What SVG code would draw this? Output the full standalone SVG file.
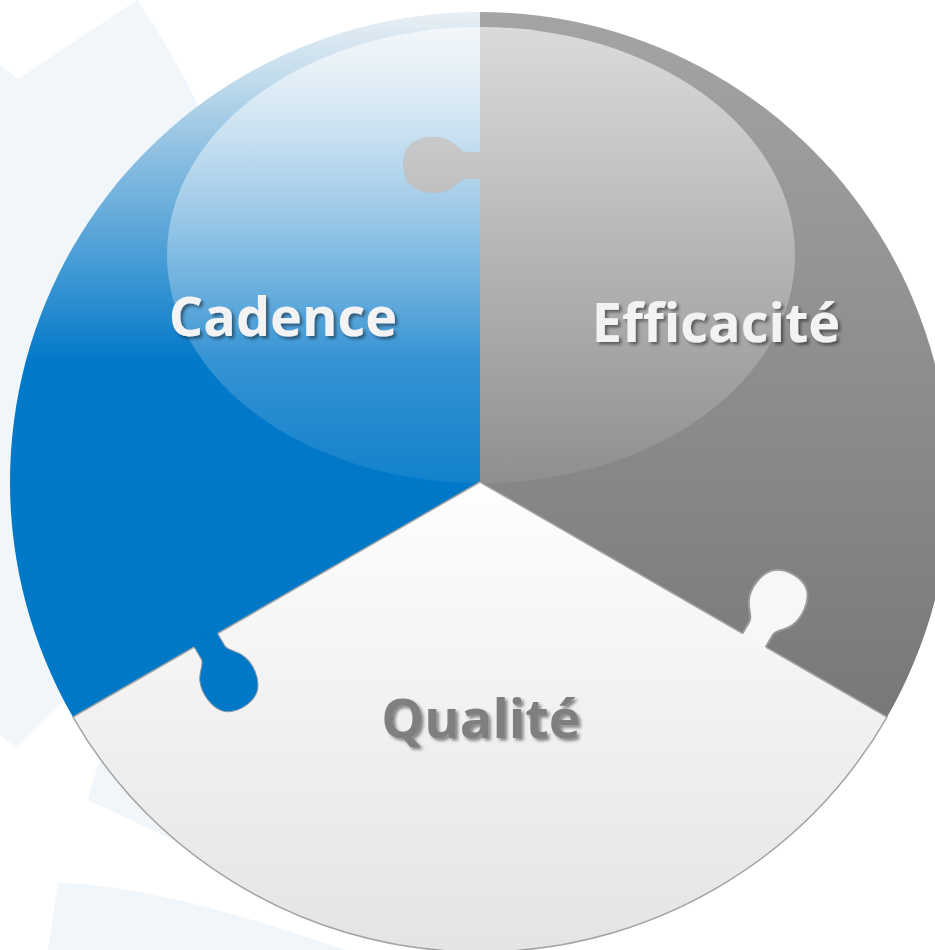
<svg xmlns="http://www.w3.org/2000/svg" xmlns:xlink="http://www.w3.org/1999/xlink" width="935" height="950" viewBox="0 0 935 950">
<style>
  .bg { fill: #f1f6fb; }
  .label { font-family: "Open Sans", "Liberation Sans", sans-serif; font-weight: bold; font-size: 54px; text-anchor: middle; filter: url(#shadow); }
  .light { fill: #f3f3f3; }
  .dark { fill: #7f7f7f; }
  .gloss { fill: url(#gGloss); }
</style>
<defs>
  <linearGradient id="gBlue" gradientUnits="userSpaceOnUse" x1="0" y1="12" x2="0" y2="482">
    <stop offset="0" stop-color="#e9eff4"/>
    <stop offset="0.145" stop-color="#c0dbec"/>
    <stop offset="0.295" stop-color="#8fc0e2"/>
    <stop offset="0.52" stop-color="#4a9ed6"/>
    <stop offset="0.74" stop-color="#0479c9"/>
    <stop offset="1" stop-color="#0078c8"/>
  </linearGradient>
  <linearGradient id="gGray" gradientUnits="userSpaceOnUse" x1="0" y1="12" x2="0" y2="717">
    <stop offset="0" stop-color="#a3a4a6"/>
    <stop offset="1" stop-color="#787878"/>
  </linearGradient>
  <linearGradient id="gWhite" gradientUnits="userSpaceOnUse" x1="0" y1="482" x2="0" y2="952">
    <stop offset="0" stop-color="#fefefe"/>
    <stop offset="1" stop-color="#e4e4e4"/>
  </linearGradient>
  <linearGradient id="gGloss" gradientUnits="userSpaceOnUse" x1="0" y1="27" x2="0" y2="483">
    <stop offset="0" stop-color="#ffffff" stop-opacity="0.6"/>
    <stop offset="0.5" stop-color="#ffffff" stop-opacity="0.3"/>
    <stop offset="1" stop-color="#ffffff" stop-opacity="0.07"/>
  </linearGradient>
  <filter id="shadow" x="-10%" y="-20%" width="130%" height="150%">
    <feDropShadow dx="2.5" dy="2.5" stdDeviation="1.5" flood-color="#000000" flood-opacity="0.45"/>
  </filter>
  <path id="blueShape" d="M480,482 L480,12 A470,470 0 0 0 72.97,717 Z"/>
  <path id="grayShape" d="M480,482 L887.03,717 A470,470 0 0 0 480,12 L480,152 L466,152 C460,152 457,144 448,140 C437,135 418,136 409,146 C401,156 402,174 409,183 C418,194 438,195 448,190 C457,186 460,179 466,179 L480,179 Z"/>
  <path id="tabFill" d="M484,152 L466,152 C460,152 457,144 448,140 C437,135 418,136 409,146 C401,156 402,174 409,183 C418,194 438,195 448,190 C457,186 460,179 466,179 L484,179 Z"/>
  <path id="tabEdge" d="M480,152 L466,152 C460,152 457,144 448,140 C437,135 418,136 409,146 C401,156 402,174 409,183 C418,194 438,195 448,190 C457,186 460,179 466,179 L480,179"/>
  <clipPath id="clipBlue"><use xlink:href="#blueShape"/></clipPath>
  <clipPath id="clipGray"><use xlink:href="#grayShape"/></clipPath>
</defs>

<g id="background">
  <path class="bg" d="M0,65 L18,79 L137,0 Q175,55 205,120 L230,650 L64,701 L17,748 L0,735 Z"/>
  <path class="bg" d="M88,800 Q93,778 103,752 L200,780 L176,841 Z"/>
  <path class="bg" d="M58,883 C130,884 230,910 345,950 L48,950 Z"/>
</g>

<g id="node-cadence">
  <use xlink:href="#blueShape" fill="url(#gBlue)"/>
  <ellipse class="gloss" cx="481" cy="255" rx="314" ry="228" clip-path="url(#clipBlue)"/>
</g>

<g id="node-efficacite">
  <use xlink:href="#grayShape" fill="url(#gGray)"/>
  <ellipse class="gloss" cx="481" cy="255" rx="314" ry="228" clip-path="url(#clipGray)"/>
</g>

<g id="node-qualite">
  <path d="M480,482 L72.97,717 A470,470 0 0 0 887.03,717 Z" fill="url(#gWhite)" stroke="#a3a3a3" stroke-width="1.5"/>
  <g transform="rotate(120 480 482)">
    <use xlink:href="#tabFill" fill="#f7f7f7"/>
    <use xlink:href="#tabEdge" fill="none" stroke="#9a9a9a" stroke-width="2"/>
  </g>
  <text class="label dark" x="481" y="738">Qualité</text>
</g>

<g id="node-cadence-tab">
  <g transform="rotate(240 480 482)">
    <use xlink:href="#tabFill" fill="#0078c8"/>
    <use xlink:href="#tabEdge" fill="none" stroke="#8c9aa6" stroke-width="1"/>
  </g>
</g>

<g id="labels">
  <text class="label light" x="283" y="336">Cadence</text>
  <text class="label light" x="716" y="342">Efficacité</text>
</g>

<g id="connectors"/>
</svg>
